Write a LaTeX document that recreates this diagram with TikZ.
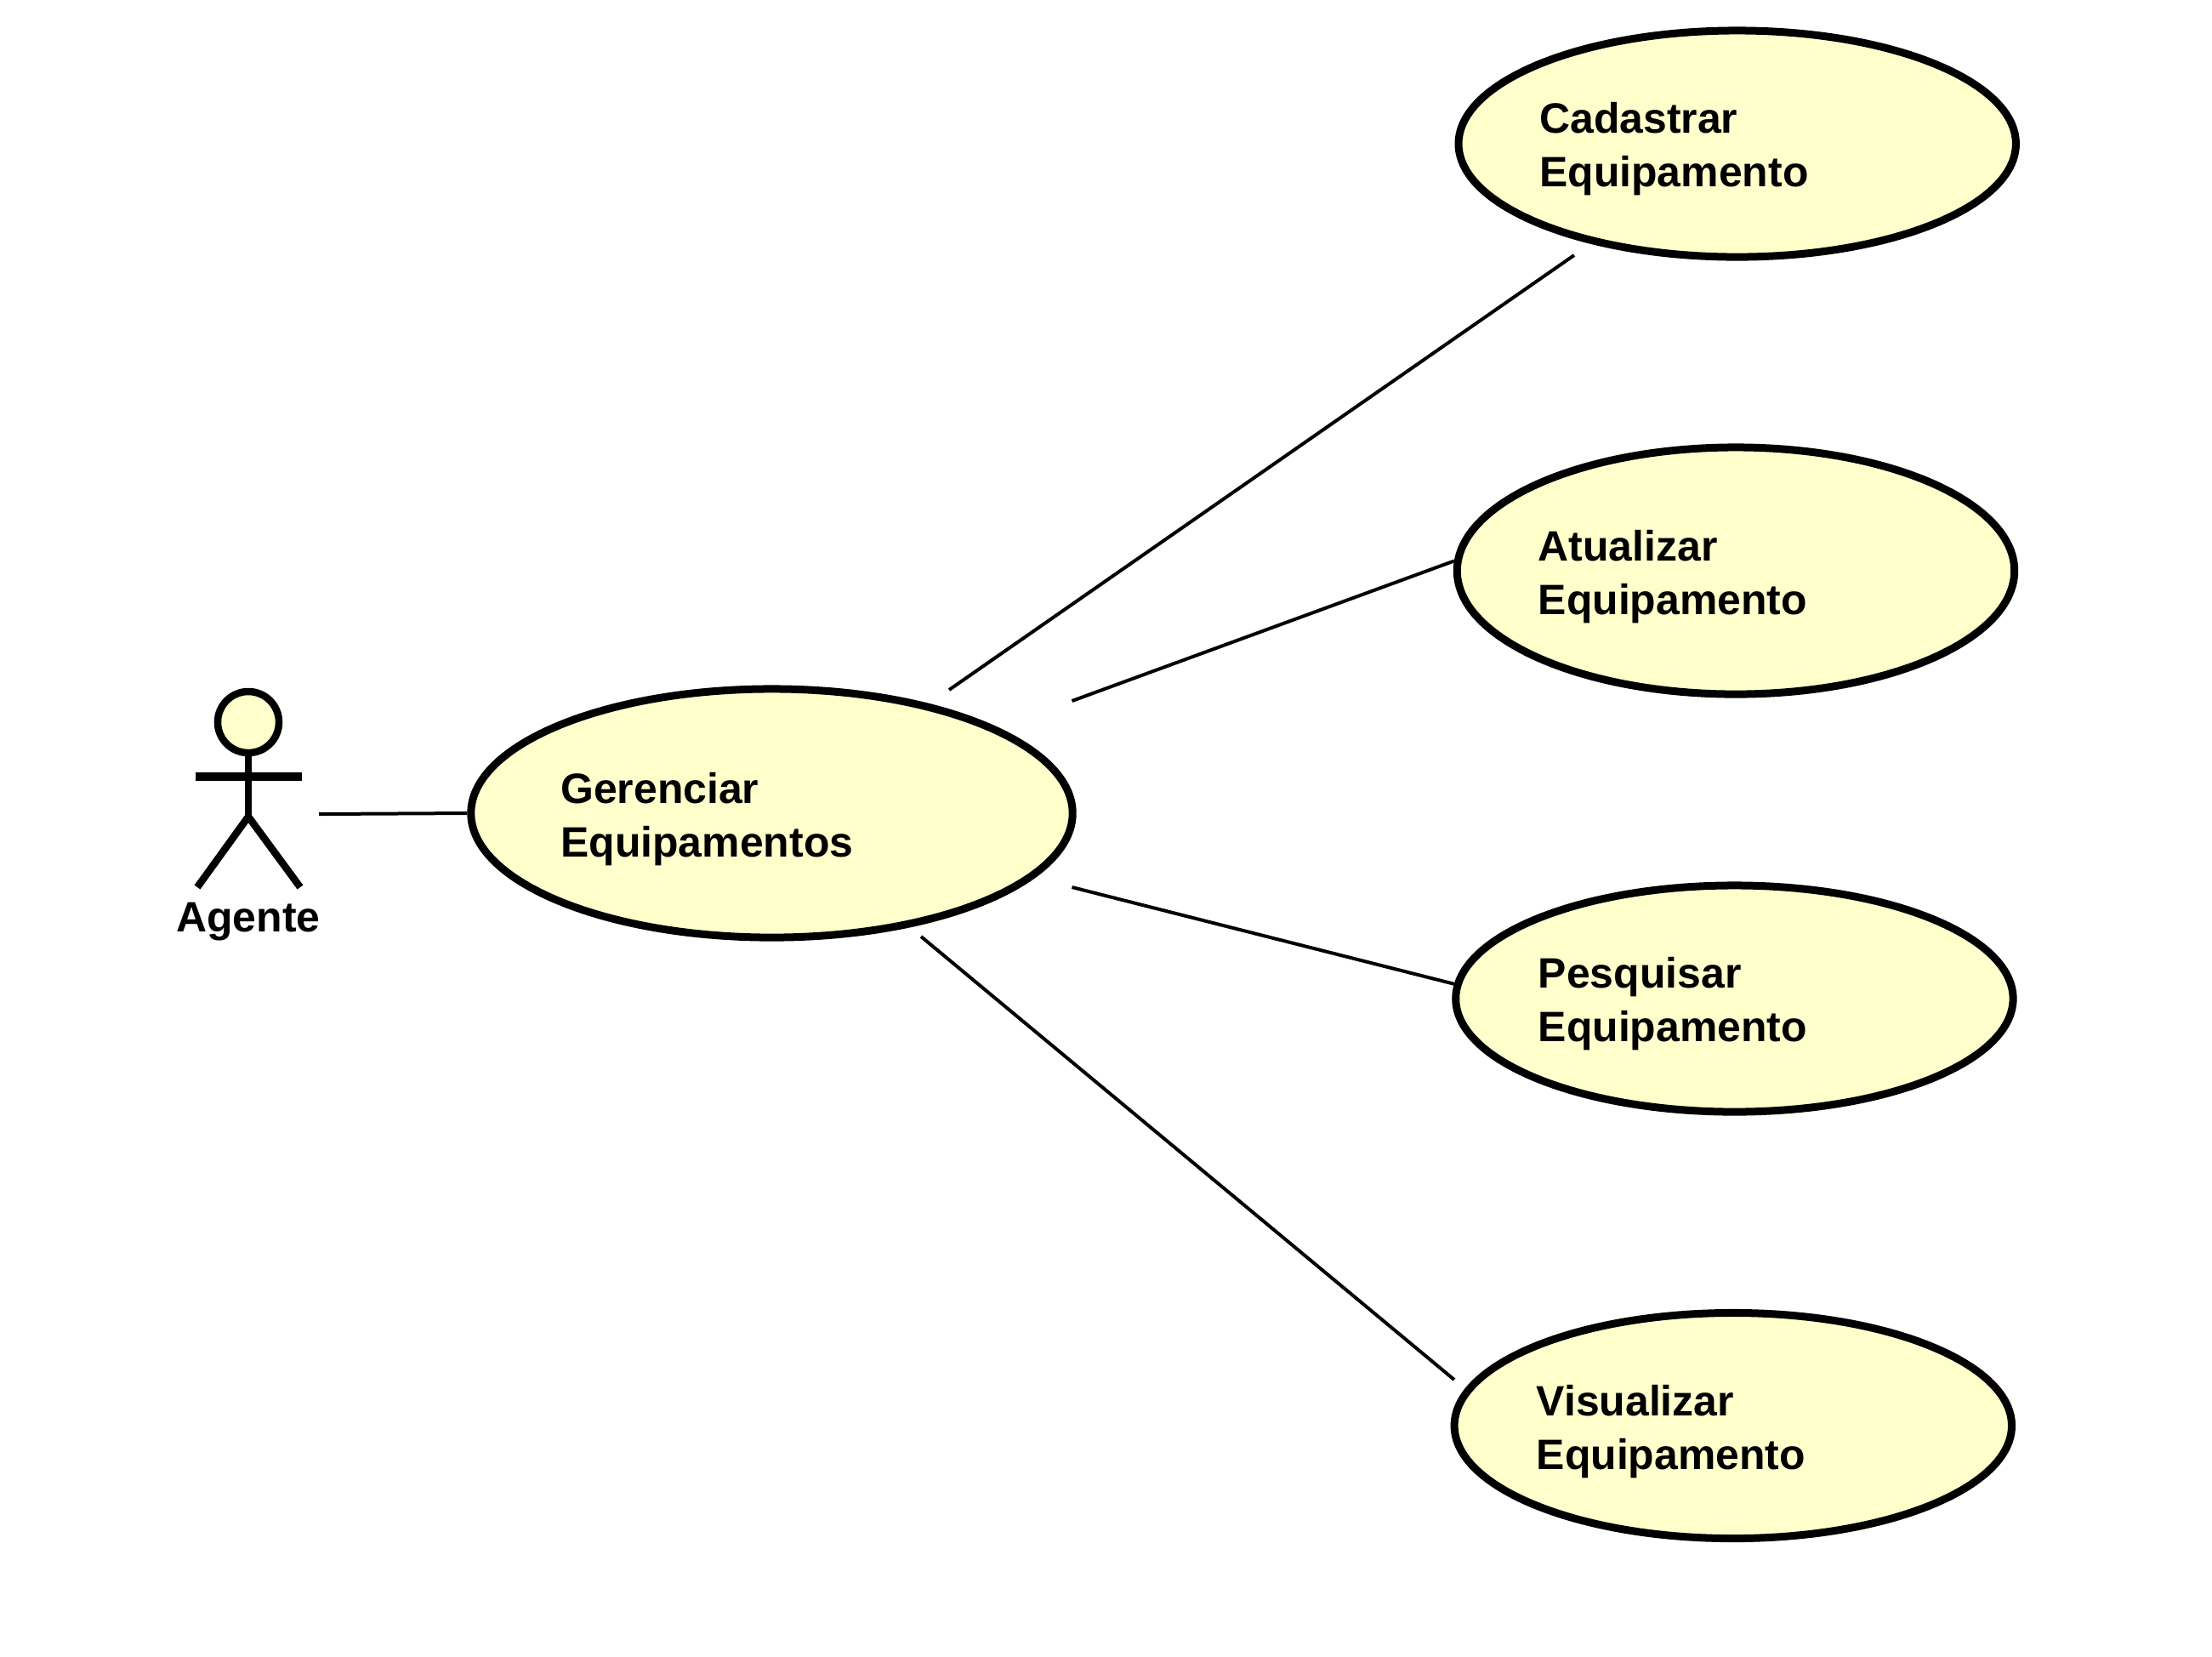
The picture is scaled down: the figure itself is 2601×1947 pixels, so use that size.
\documentclass[tikz,border=0pt]{standalone}
\usepackage{fontspec}
\setmainfont{Liberation Sans}
\definecolor{casefill}{HTML}{FFFFCC}
\tikzset{
  usecase/.style={draw, ellipse, fill=casefill, line width=.09cm, inner sep=0pt, minimum width=6.55cm, minimum height=2.66cm},
  casetext/.style={anchor=base west, align=left, inner sep=0pt, font=\fontsize{14.2pt}{17.9pt}\selectfont\bfseries},
  assoc/.style={line width=.04cm},
  limb/.style={line width=.085cm}
}
\usetikzlibrary{shapes.geometric}

\begin{document}
\begin{tikzpicture}[x=.01cm, y=-.01cm]
\useasboundingbox (0,0) rectangle (2601,1947);
\node[usecase, minimum width=7.07cm, minimum height=2.92cm] (gerenciar) at (907.5,956) {};
\node[usecase] (cadastrar) at (2042.7,169) {};
\node[usecase, minimum height=2.9cm] (atualizar) at (2041,671) {};
\node[usecase] (pesquisar) at (2039.4,1174) {};
\node[usecase, minimum height=2.65cm] (visualizar) at (2037.8,1676) {};
\node[casetext] (gerenciartext) at (658.5,1007) {Gerenciar\\Equipamentos};
\node[casetext] (cadastrartext) at (1809.5,219) {Cadastrar\\Equipamento};
\node[casetext] (atualizartext) at (1808,722) {Atualizar\\Equipamento};
\node[casetext] (pesquisartext) at (1808,1224) {Pesquisar\\Equipamento};
\node[casetext] (visualizartext) at (1806,1727) {Visualizar\\Equipamento};
\node[draw, circle, fill=casefill, limb, inner sep=0pt, minimum size=.72cm] (head) at (292,849) {};
\coordinate (hip) at (292,960);
\coordinate (armleft) at (230,913);
\coordinate (armright) at (355,913);
\coordinate (footleft) at (232,1043);
\coordinate (footright) at (353,1043);
\draw[limb] (head) -- (hip);
\draw[limb, line width=.095cm] (armleft) -- (armright);
\draw[limb] (footleft) -- (hip) -- (footright);
\node[casetext, anchor=base] (agente) at (292,1095) {Agente};
\coordinate (actorend) at (375,957);
\coordinate (gercad) at (1116,811);
\coordinate (cadend) at (1851,300);
\coordinate (gerat) at (1260.5,824);
\coordinate (gerpes) at (1260.5,1043);
\coordinate (gervis) at (1083,1101);
\coordinate (visend) at (1710,1622);
\draw[assoc] (actorend) -- (gerenciar.west);
\draw[assoc] (gercad) -- (cadend);
\draw[assoc] (gerat) -- (atualizar.178.25);
\draw[assoc] (gerpes) -- (pesquisar.177.05);
\draw[assoc] (gervis) -- (visend);
\end{tikzpicture}
\end{document}
